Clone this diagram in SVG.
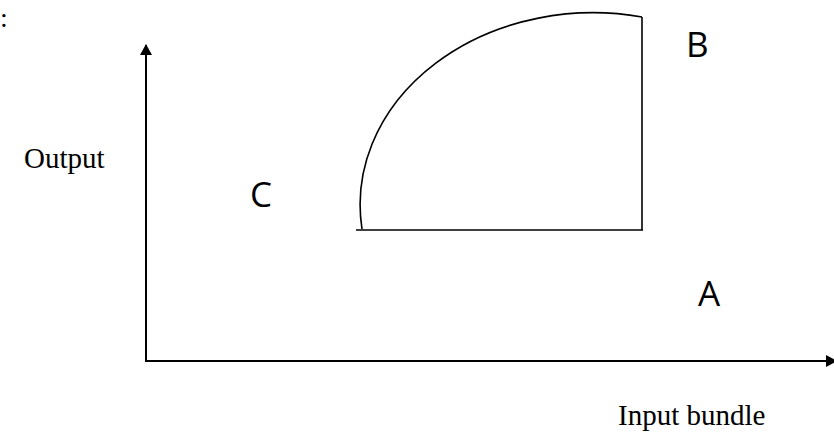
<svg xmlns="http://www.w3.org/2000/svg" width="834" height="446" viewBox="0 0 834 446">
<style>
.ax{stroke:#000;stroke-width:2;fill:none}
.ln{stroke:#000;stroke-width:1.6;fill:none}
.serif{font-family:"Liberation Serif","Times New Roman",serif;fill:#000;font-size:29px}
.sans{font-family:"Open Sans","Liberation Sans",sans-serif;fill:#000;font-size:35px}
</style>
<defs>
<marker id="arr" markerWidth="12" markerHeight="12" refX="10" refY="6" orient="auto" markerUnits="userSpaceOnUse">
<path d="M0,0 L11,6 L0,12 Z" fill="#000"/>
</marker>
</defs>
<rect width="834" height="446" fill="#fff"/>
<g id="connectors">
<line class="ax" x1="146" y1="361" x2="146" y2="45" marker-end="url(#arr)"/>
<line class="ax" x1="145" y1="361" x2="836" y2="361" marker-end="url(#arr)"/>
</g>
<g id="region">
<path class="ln" d="M 362 229 A 233 192 0 0 1 642 17"/>
<line class="ln" x1="642" y1="17" x2="642" y2="230"/>
<line class="ln" x1="356" y1="230" x2="643" y2="230"/>
</g>
<text class="serif" x="0" y="27" style="font-size:28px">:</text>
<text class="serif" x="24" y="168">Output</text>
<text class="serif" x="618" y="425">Input bundle</text>
<text class="sans" x="250" y="207">C</text>
<text class="sans" x="686" y="57">B</text>
<text class="sans" x="698" y="306">A</text>
</svg>
